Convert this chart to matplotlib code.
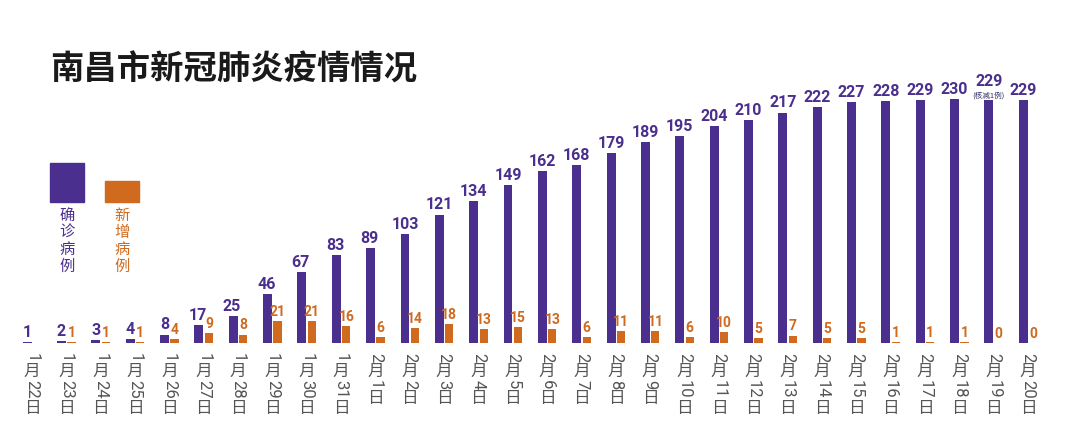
import re

import matplotlib

matplotlib.use("Agg")  # headless
import matplotlib.pyplot as plt
import numpy as np

plt.rcParams["font.family"] = ["Noto Sans CJK SC", "DejaVu Sans"]

# --- data ---
dates = [
    "1月22日", "1月23日", "1月24日", "1月25日", "1月26日", "1月27日",
    "1月28日", "1月29日", "1月30日", "1月31日", "2月1日", "2月2日",
    "2月3日", "2月4日", "2月5日", "2月6日", "2月7日", "2月8日",
    "2月9日", "2月10日", "2月11日", "2月12日", "2月13日", "2月14日",
    "2月15日", "2月16日", "2月17日", "2月18日", "2月19日", "2月20日",
]
confirmed = [1, 2, 3, 4, 8, 17, 25, 46, 67, 83, 89, 103, 121, 134, 149,
             162, 168, 179, 189, 195, 204, 210, 217, 222, 227, 228, 229,
             230, 229, 229]
new_cases = [np.nan, 1, 1, 1, 4, 9, 8, 21, 21, 16, 6, 14, 18, 13, 15,
             13, 6, 11, 11, 6, 10, 5, 7, 5, 5, 1, 1, 1, 0, 0]
note_day = "2月19日"
note_text = "(核减1例)"

PURPLE = "#4b2f8e"
ORANGE = "#cf6a1f"
GRAY = "#555555"
NUM_FONT = ["Roboto", "DejaVu Sans"]

W, H = 1080, 441
fig = plt.figure(figsize=(W / 100, H / 100), dpi=100)
fig.patch.set_facecolor("white")

# main axes: baseline at y=343px, x index 0 -> 32px, 29 -> 1028px
ax = fig.add_axes([1.1 / W, 98 / H, 1057.8 / W, 343 / H])
ax.set_xlim(-0.9, 29.9)
ax.set_ylim(0, 323)
ax.axis("off")

x = np.arange(len(dates))
new_h = np.nan_to_num(np.array(new_cases, dtype=float))
ax.bar(x - 0.27, confirmed, width=0.26, align="edge", color=PURPLE)
ax.bar(x + 0.03, new_h, width=0.24, align="edge", color=ORANGE)

for i, (d, c, n) in enumerate(zip(dates, confirmed, new_cases)):
    lift = 8 if d == note_day else 1.5
    ax.annotate(str(c), xy=(i - 0.14, c), xytext=(-1 if 10 <= c < 100 else 0, lift),
                textcoords="offset points", ha="center", va="bottom",
                fontsize=11.5, fontweight="bold", color=PURPLE,
                family=NUM_FONT, annotation_clip=False)
    if d == note_day:
        ax.annotate(note_text, xy=(i - 0.14, c), xytext=(0, 0.5),
                    textcoords="offset points", ha="center", va="bottom",
                    fontsize=5.5, color="#333366", annotation_clip=False)
    if not np.isnan(n):
        ax.annotate(str(int(n)), xy=(i + 0.15, n), xytext=(0, 1.5),
                    textcoords="offset points", ha="center", va="bottom",
                    fontsize=10, fontweight="bold", color=ORANGE,
                    family=NUM_FONT, annotation_clip=False)

    # vertical date label: CJK upright, digits turned sideways
    pos = 9.0  # px below baseline
    for part in re.findall(r"\d+|\D", d):
        adv = 9.5 * len(part) + 1.5 if part.isdigit() else 16.5
        ax.annotate(part, xy=(i, 0), xytext=(0, -(pos + adv / 2) * 0.72),
                    textcoords="offset points", ha="center", va="center",
                    rotation=-90 if part.isdigit() else 0,
                    fontsize=12, fontweight="normal", color=GRAY,
                    family=NUM_FONT if part.isdigit() else None,
                    annotation_clip=False)
        pos += adv

# title
fig.text(50 / W, 1 - 70 / H, "南昌市新冠肺炎疫情情况", ha="left", va="center",
         fontsize=24, fontweight="heavy", color="#1a1a1a")

# legend blocks
fig.add_artist(plt.Rectangle((50 / W, 1 - 202 / H), 34 / W, 39 / H,
                             color=PURPLE, transform=fig.transFigure))
fig.add_artist(plt.Rectangle((105 / W, 1 - 202 / H), 34 / W, 21 / H,
                             color=ORANGE, transform=fig.transFigure))
fig.text(67 / W, 1 - 241 / H, "确\n诊\n病\n例", ha="center", va="center",
         fontsize=11, fontweight="medium", color=PURPLE, linespacing=1.0)
fig.text(122 / W, 1 - 241 / H, "新\n增\n病\n例", ha="center", va="center",
         fontsize=11, fontweight="medium", color=ORANGE, linespacing=1.0)

fig.savefig("out.png", dpi=100)
